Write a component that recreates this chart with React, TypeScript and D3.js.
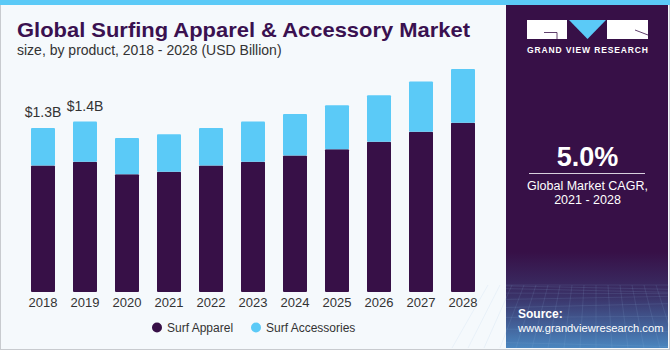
import { useEffect, useRef } from "react";
import * as d3 from "d3";

const years = ["2018", "2019", "2020", "2021", "2022", "2023", "2024", "2025", "2026", "2027", "2028"];
const surfApparel = [1.01, 1.04, 0.94, 0.96, 1.01, 1.04, 1.09, 1.14, 1.2, 1.28, 1.35];
const surfAccessories = [0.3, 0.32, 0.29, 0.3, 0.3, 0.32, 0.33, 0.35, 0.37, 0.4, 0.43];
const valueLabels = [{ year: "2018", text: "$1.3B" }, { year: "2019", text: "$1.4B" }];
const seriesNames = ["Surf Apparel", "Surf Accessories"];

const PURPLE = "#371047";
const BLUE = "#5bcaf7";
const FONT = "'Liberation Sans', Arial, sans-serif";

export default function App() {
  const svgRef = useRef<SVGSVGElement | null>(null);

  useEffect(() => {
    const svg = d3.select(svgRef.current);
    svg.selectAll("*").remove();

    const width = 670;
    const height = 350;
    svg.attr("width", width).attr("height", height);

    const defs = svg.append("defs");
    const grad = defs.append("linearGradient")
      .attr("id", "panelGrad").attr("x1", 0).attr("y1", 0).attr("x2", 0).attr("y2", 1);
    grad.append("stop").attr("offset", "0").attr("stop-color", PURPLE);
    grad.append("stop").attr("offset", "0.72").attr("stop-color", PURPLE);
    grad.append("stop").attr("offset", "0.85").attr("stop-color", "#3a3268");
    grad.append("stop").attr("offset", "1").attr("stop-color", "#4a86bf");

    // background + frame
    svg.append("rect").attr("width", width).attr("height", height).attr("fill", "#f5f9fc");
    svg.append("rect").attr("x", 0.5).attr("y", 0.5).attr("width", width - 1).attr("height", height - 1)
      .attr("fill", "none").attr("stroke", "#c8cbcf");
    svg.append("rect").attr("x", 0).attr("y", 0).attr("width", width).attr("height", 5).attr("fill", BLUE);

    // title
    svg.append("text").attr("x", 17).attr("y", 37)
      .attr("font-family", FONT).attr("font-weight", 900)
      .attr("font-size", 21).attr("fill", "#3a1150")
      .attr("textLength", 453).attr("lengthAdjust", "spacingAndGlyphs")
      .text("Global Surfing Apparel & Accessory Market");
    svg.append("text").attr("x", 17).attr("y", 55)
      .attr("font-family", FONT).attr("font-size", 14).attr("fill", "#333")
      .text("size, by product, 2018 - 2028 (USD Billion)");

    // scales
    const x = d3.scaleBand().domain(years).range([31, 475]).paddingInner(0.4286).paddingOuter(0);
    const y = d3.scaleLinear().domain([0, 1.78]).range([292, 69]);

    const rows = years.map((yr, i) => ({ year: yr, apparel: surfApparel[i], acc: surfAccessories[i] }));
    const stack = d3.stack<any>().keys(["apparel", "acc"])(rows);
    const colors = [PURPLE, BLUE];

    const g = svg.append("g");
    stack.forEach((layer, li) => {
      g.selectAll(null)
        .data(layer)
        .enter()
        .append("rect")
        .attr("x", d => x(d.data.year) as number)
        .attr("y", d => y(d[1]))
        .attr("width", x.bandwidth())
        .attr("height", d => y(d[0]) - y(d[1]))
        .attr("rx", 1)
        .attr("fill", colors[li]);
    });

    // value labels
    valueLabels.forEach(v => {
      const i = years.indexOf(v.year);
      const total = surfApparel[i] + surfAccessories[i];
      svg.append("text")
        .attr("x", (x(v.year) as number) + x.bandwidth() / 2)
        .attr("y", y(total) - 11)
        .attr("text-anchor", "middle")
        .attr("font-family", FONT).attr("font-size", 14).attr("fill", "#333")
        .text(v.text);
    });

    // x axis labels
    svg.append("g").selectAll("text")
      .data(years).enter().append("text")
      .attr("x", d => (x(d) as number) + x.bandwidth() / 2)
      .attr("y", 306.5)
      .attr("text-anchor", "middle")
      .attr("font-family", FONT).attr("font-size", 13).attr("fill", "#333")
      .text(d => d);

    // legend
    const legend = svg.append("g");
    const legendX = [157, 256];
    seriesNames.forEach((name, i) => {
      legend.append("circle").attr("cx", legendX[i]).attr("cy", 327.5).attr("r", 5).attr("fill", colors[i]);
      legend.append("text").attr("x", legendX[i] + 10).attr("y", 331.7)
        .attr("font-family", FONT).attr("font-size", 12).attr("fill", "#333").text(name);
    });

    // right panel
    const px = 506;
    const panel = svg.append("g");
    panel.append("rect").attr("x", px).attr("y", 5).attr("width", 162).attr("height", 343).attr("fill", "url(#panelGrad)");

    // faint grid in panel bottom
    const gridG = panel.append("g").attr("stroke", "#8fb7e0").attr("stroke-opacity", 0.22).attr("stroke-width", 0.6);
    d3.range(0, 9).forEach(k => {
      const yy = 285 + k * k * 0.9;
      gridG.append("line").attr("x1", px).attr("x2", px + 162).attr("y1", yy).attr("y2", yy + 4 * Math.sin(k));
    });
    d3.range(0, 18).forEach(k => {
      const xx = px + k * 10;
      gridG.append("line").attr("x1", xx + (k - 9) * 2).attr("y1", 285).attr("x2", xx + (k - 9) * 6).attr("y2", 348);
    });

    // logo
    panel.append("rect").attr("x", 527).attr("y", 20).attr("width", 40).attr("height", 19).attr("fill", "#fff");
    panel.append("path").attr("d", "M569,20 L606,20 L587.5,39 Z").attr("fill", BLUE);
    panel.append("rect").attr("x", 607).attr("y", 20).attr("width", 41).attr("height", 19).attr("fill", "#fff");
    panel.append("path").attr("d", "M544,32.5 L557,32.5 L557,39").attr("fill", "none").attr("stroke", PURPLE).attr("stroke-width", 0.8);
    panel.append("path").attr("d", "M635,30 L648,35").attr("fill", "none").attr("stroke", PURPLE).attr("stroke-width", 0.8);
    panel.append("text").attr("x", 587.5).attr("y", 53).attr("text-anchor", "middle")
      .attr("font-family", FONT).attr("font-weight", "bold").attr("font-size", 8.5).attr("fill", "#fff")
      .attr("textLength", 121).attr("lengthAdjust", "spacing")
      .text("GRAND VIEW RESEARCH");

    panel.append("text").attr("x", 587.5).attr("y", 165.5).attr("text-anchor", "middle")
      .attr("font-family", FONT).attr("font-weight", "bold").attr("font-size", 27).attr("fill", "#fff")
      .text("5.0%");
    panel.append("line").attr("x1", 529).attr("x2", 645).attr("y1", 173.5).attr("y2", 173.5)
      .attr("stroke", "#d8d0de").attr("stroke-width", 1);
    panel.append("text").attr("x", 587.5).attr("y", 190).attr("text-anchor", "middle")
      .attr("font-family", FONT).attr("font-size", 12.5).attr("fill", "#fff").text("Global Market CAGR,");
    panel.append("text").attr("x", 587.5).attr("y", 204).attr("text-anchor", "middle")
      .attr("font-family", FONT).attr("font-size", 12.5).attr("fill", "#fff").text("2021 - 2028");

    panel.append("text").attr("x", 518).attr("y", 318)
      .attr("font-family", FONT).attr("font-weight", "bold").attr("font-size", 12).attr("fill", "#fff").text("Source:");
    panel.append("text").attr("x", 518).attr("y", 331.5)
      .attr("font-family", FONT).attr("font-size", 11.2).attr("fill", "#fff")
      .text("www.grandviewresearch.com");
  }, []);

  return <svg ref={svgRef} style={{ position: "absolute", left: 0, top: 0, display: "block" }}></svg>;
}
